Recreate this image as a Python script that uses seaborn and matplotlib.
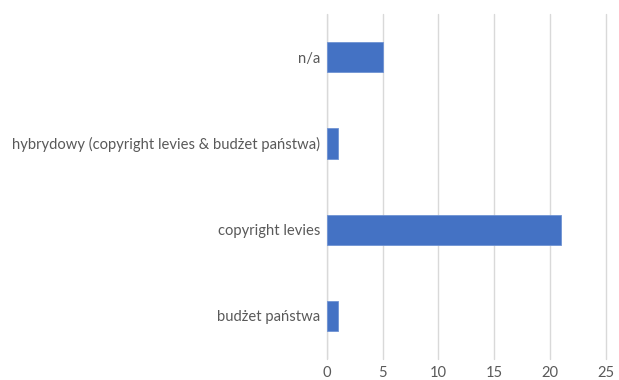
import matplotlib
matplotlib.use("Agg")
import matplotlib.pyplot as plt
import seaborn as sns
import pandas as pd

categories = ["n/a",
              "hybrydowy (copyright levies & budżet państwa)",
              "copyright levies",
              "budżet państwa"]
counts = [5, 1, 21, 1]
x_ticks = [0, 5, 10, 15, 20, 25]

sns.set_theme(style="white")
plt.rcParams["font.family"] = ["Lato", "DejaVu Sans"]

df = pd.DataFrame({"category": categories, "count": counts})

fig = plt.figure(figsize=(6.19, 3.80), dpi=100)
ax = fig.add_axes([0.528, 0.055, 0.451, 0.908])

sns.barplot(data=df, x="count", y="category", order=categories,
            color="#4472C4", saturation=1, width=0.35,
            edgecolor="#6f93d3", linewidth=0.6, ax=ax, zorder=3)

ax.set_xlim(0, 25)
ax.set_xticks(x_ticks)
ax.xaxis.grid(True, color="#d9d9d9", linewidth=1.0, zorder=0)
for gl in ax.get_xgridlines():
    gl.set_clip_on(False)
ax.set_axisbelow(True)
for s in ax.spines.values():
    s.set_visible(False)
ax.axvline(0, color="#d9d9d9", linewidth=1.0, zorder=1)
ax.set_xlabel("")
ax.set_ylabel("")
ax.tick_params(axis="both", length=0, labelsize=10.6, labelcolor="#595959")
ax.tick_params(axis="y", pad=5)
ax.tick_params(axis="x", pad=5)

fig.savefig("out.png", dpi=100, facecolor="white")
